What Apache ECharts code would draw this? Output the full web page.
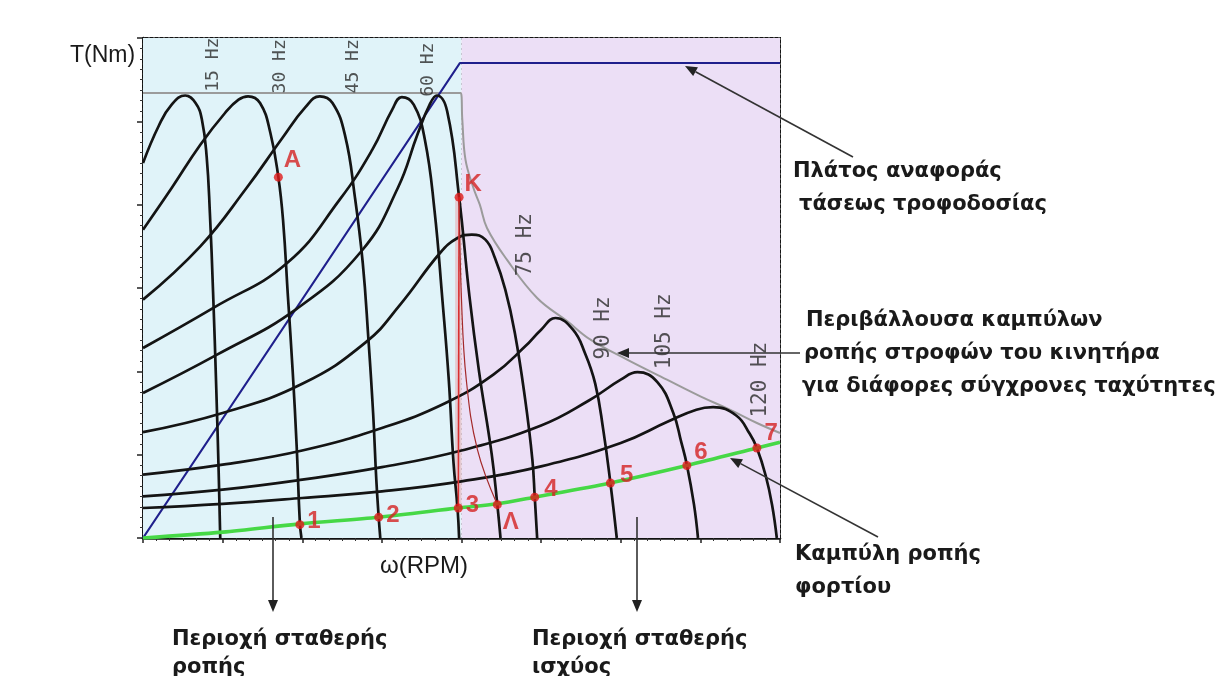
<!DOCTYPE html>
<html><head><meta charset="utf-8">
<script src="https://cdn.jsdelivr.net/npm/echarts@6/dist/echarts.min.js"></script>
<style>html,body{margin:0;padding:0;background:#fff}#c{width:1221px;height:676px}</style>
</head><body><div id="c"></div><script>
// torque–speed curves (x: speed in grid units, 1 unit = 15 Hz sync speed; y: torque units)
const c15 = [[0,4.5],[0.2,4.95],[0.36,5.2],[0.53,5.31],[0.66,5.22],[0.74,5.02],[0.8,4.57],[0.84,3.9],[0.88,2.95],[0.92,1.8],[0.95,0.8],[0.97,0]];
const c30 = [[0,3.7],[0.36,4.2],[0.72,4.72],[1.03,5.1],[1.2,5.26],[1.32,5.3],[1.47,5.22],[1.6,4.86],[1.7,4.33],[1.76,3.8],[1.82,2.9],[1.88,2.0],[1.93,1.1],[1.97,0.18],[1.99,0]];
const c45 = [[0,2.86],[0.72,3.5],[1.3,4.2],[1.75,4.8],[2.04,5.17],[2.22,5.3],[2.38,5.22],[2.54,4.82],[2.66,4.1],[2.76,3.3],[2.83,2.4],[2.89,1.5],[2.93,0.7],[2.96,0.25],[2.98,0]];
const c60 = [[0,2.28],[0.9,2.77],[1.81,3.3],[2.47,4.06],[2.88,4.66],[3.13,5.14],[3.25,5.29],[3.4,5.2],[3.54,4.78],[3.66,3.94],[3.76,2.86],[3.84,1.9],[3.9,0.9],[3.95,0.36],[3.97,0]];
const c60k = [[0,1.74],[0.93,2.2],[1.93,2.75],[2.75,3.45],[3.2,4.2],[3.45,4.85],[3.6,5.2],[3.69,5.31],[3.82,5.12],[3.97,4.09],[4.1,2.9],[4.22,2.0],[4.38,1.0],[4.45,0.4],[4.49,0]];
const c75 = [[0,1.27],[1,1.5],[2,1.85],[2.8,2.35],[3.23,2.8],[3.73,3.42],[3.95,3.6],[4.13,3.64],[4.3,3.58],[4.42,3.36],[4.55,2.98],[4.67,2.46],[4.8,1.66],[4.89,0.94],[4.92,0.49],[4.95,0]];
const c90 = [[0,0.76],[1,0.88],[2,1.05],[3,1.32],[3.8,1.62],[4.4,1.96],[4.8,2.3],[5.0,2.5],[5.18,2.64],[5.4,2.5],[5.55,2.22],[5.68,1.85],[5.78,1.3],[5.87,0.66],[5.95,0]];
const c105 = [[0,0.5],[1,0.58],[2,0.7],[3,0.85],[4,1.05],[5,1.35],[5.6,1.65],[6.0,1.9],[6.21,1.99],[6.46,1.87],[6.66,1.5],[6.76,1.15],[6.83,0.88],[6.92,0.4],[6.97,0]];
const c120 = [[0,0.36],[1,0.41],[2,0.48],[3,0.56],[4,0.68],[5,0.86],[6,1.14],[6.6,1.4],[6.95,1.54],[7.16,1.57],[7.45,1.47],[7.62,1.25],[7.71,1.08],[7.82,0.75],[7.9,0.4],[7.96,0]];
const torqueCurves = [c15, c30, c45, c60, c60k, c75, c90, c105, c120];

const envelope = [[0,5.34],[3.99,5.34],[4.01,5.02],[4.05,4.54],[4.15,4.2],[4.23,4.0],[4.32,3.72],[4.57,3.34],[4.95,2.88],[5.33,2.6],[5.62,2.38],[6.08,2.14],[6.58,1.9],[7.0,1.7],[7.37,1.54],[7.71,1.38],[8,1.26]];
const voltage = [[0,0],[3.98,5.7],[8,5.7]];
const load = [[0,0],[1,0.07],[1.97,0.17],[2.96,0.25],[3.96,0.36],[4.45,0.41],[4.92,0.49],[5.87,0.66],[6.83,0.87],[7.71,1.08],[8,1.15]];
const transK3 = [[3.97,4.09],[3.96,0.36]];
const transKL = [[3.97,4.09],[4.0,2.86],[4.06,1.9],[4.2,1.06],[4.45,0.4]];

const pointNames = ['A','K','1','2','3','Λ','4','5','6','7'];
const pointValues = [[1.7,4.33],[3.97,4.09],[1.97,0.16],[2.96,0.25],[3.96,0.36],[4.45,0.4],[4.92,0.49],[5.87,0.66],[6.83,0.87],[7.71,1.08]];

const freqLabels = ['15 Hz','30 Hz','45 Hz','60 Hz','75 Hz','90 Hz','105 Hz','120 Hz'];
const freqLabelPos = [[0.88,5.68],[1.72,5.66],[2.64,5.66],[3.58,5.62],[4.8,3.52],[5.79,2.52],[6.55,2.48],[7.76,1.9]];
const freqLabelSize = [18,18,18,18,21,21,21,21];

const constTorqueEnd = 4.0; // boundary between regions (x units)

const labelOffsets = {'A':[-2,-17],'K':[-2,-13],'1':[0,-3],'2':[0,-2],'3':[0,-3],'Λ':[-2,18],'4':[2,-8],'5':[2,-8],'6':[0,-13],'7':[0,-15]};

const chart = echarts.init(document.getElementById('c'));
const dotted = {color:'#555', width:1.8, type:[2,3]};
const series = [];
series.push({type:'line', z:-10, data:[[0,0]], symbol:'none', lineStyle:{opacity:0}, silent:true,
  markArea:{silent:true, data:[
    [{xAxis:0,yAxis:0,itemStyle:{color:'#e0f3f9'}},{xAxis:constTorqueEnd,yAxis:6}],
    [{xAxis:constTorqueEnd,yAxis:0,itemStyle:{color:'#ecdff6'}},{xAxis:8,yAxis:6}],
    [{xAxis:3.92,yAxis:0.36,itemStyle:{color:'rgba(235,150,160,0.45)'}},{xAxis:4.0,yAxis:4.09}]
  ]}});
series.push({type:'line', data:envelope, symbol:'none', smooth:0.4, lineStyle:{color:'#9b9b9b', width:2}, z:3});
series.push({type:'line', data:voltage, symbol:'none', lineStyle:{color:'#1f1f8c', width:2.2}, z:3});
torqueCurves.forEach(c => series.push({type:'line', data:c, symbol:'none', smooth:0.45, lineStyle:{color:'#141414', width:2.7}, z:4}));
series.push({type:'line', data:transK3, symbol:'none', lineStyle:{color:'#d83030', width:1.6}, z:5});
series.push({type:'line', data:transKL, symbol:'none', smooth:0.4, lineStyle:{color:'#a42a2a', width:1.2}, z:5});
series.push({type:'line', data:load, symbol:'none', smooth:0.3, lineStyle:{color:'#46d846', width:3.6}, z:6});
series.push({type:'scatter', z:8, symbol:'circle', symbolSize:9, itemStyle:{color:'#e01a1a'},
  data: pointNames.map((n,i)=>({name:n, value:pointValues[i], label:{offset:labelOffsets[n]}})),
  label:{show:true, position:'right', distance:3, formatter:p=>p.name, color:'#d42222', fontSize:24, fontWeight:'bold', fontFamily:'Liberation Sans, Arial'}});
series.push({type:'scatter', z:7, symbolSize:0, silent:true,
  data: freqLabels.map((n,i)=>({name:n, value:freqLabelPos[i], label:{fontSize:freqLabelSize[i]}})),
  label:{show:true, position:'inside', rotate:90, formatter:p=>p.name, color:'#2a2a2a', fontFamily:'DejaVu Sans Mono'}});

function arrow(x0,y0,x1,y1){
  const a = Math.atan2(y1-y0,x1-x0), L=12, W=5;
  const bx = x1-L*Math.cos(a), by = y1-L*Math.sin(a);
  return [
    {type:'line', shape:{x1:x0,y1:y0,x2:bx,y2:by}, style:{stroke:'#333', lineWidth:1.6}, z:20},
    {type:'polygon', shape:{points:[[x1,y1],[bx+W*Math.sin(a),by-W*Math.cos(a)],[bx-W*Math.sin(a),by+W*Math.cos(a)]]}, style:{fill:'#222'}, z:20}
  ];
}
const annFont = 'bold 21px "DejaVu Sans"';
function txt(s,x,y,font){ return {type:'text', x:x, y:y, style:{text:s, font:font||annFont, fill:'#1a1a1a', verticalAlign:'middle'}, z:20}; }

const graphics = [].concat(
  arrow(853,157,685,66), arrow(800,353,617,353), arrow(878,537,730,458),
  arrow(273,517,273,612), arrow(637,517,637,612),
  [
    txt('T(Nm)',70,56,'23px "Liberation Sans"'),
    txt('ω(RPM)',380,566,'24px "Liberation Sans"'),
    txt('Πλάτος αναφοράς',793,172),
    txt('τάσεως τροφοδοσίας',799,205),
    txt('Περιβάλλουσα καμπύλων',806,321),
    txt('ροπής στροφών του κινητήρα',804,354),
    txt('για διάφορες σύγχρονες ταχύτητες',802,387),
    txt('Καμπύλη ροπής',795,555),
    txt('φορτίου',795,588),
    txt('Περιοχή σταθερής',172,640),
    txt('ροπής',172,668),
    txt('Περιοχή σταθερής',532,640),
    txt('ισχύος',532,668)
  ]);

chart.setOption({
  animation:false,
  grid:{left:143, right:441, top:38, bottom:138, show:true, borderColor:'#151515', borderWidth:2, backgroundColor:'transparent'},
  xAxis:{type:'value', min:0, max:8, interval:1,
    axisLine:{show:true, lineStyle:{color:'#111', width:2.5}},
    axisTick:{show:true, length:5, lineStyle:{color:'#222', width:1.5}},
    minorTick:{show:true, splitNumber:6, length:3, lineStyle:{color:'#333'}},
    axisLabel:{show:false}, splitLine:{show:true, lineStyle:dotted}},
  yAxis:{type:'value', min:0, max:6, interval:1,
    axisLine:{show:true, lineStyle:{color:'#111', width:2.5}},
    axisTick:{show:true, length:6, lineStyle:{color:'#222', width:1.5}},
    minorTick:{show:true, splitNumber:8, length:3, lineStyle:{color:'#333'}},
    axisLabel:{show:false}, splitLine:{show:true, lineStyle:dotted}},
  series: series,
  graphic: graphics
});
</script></body></html>
